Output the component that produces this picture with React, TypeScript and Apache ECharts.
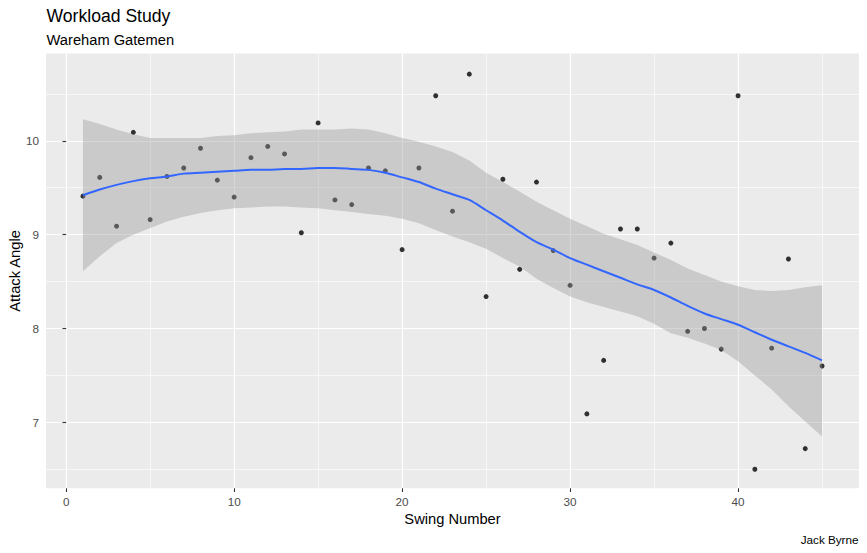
import React, { useEffect, useRef } from "react";
import * as echarts from "echarts";

const swingNumber = [
  1, 2, 3, 4, 5, 6, 7, 8, 9, 10, 11, 12, 13, 14, 15, 16, 17, 18, 19, 20, 21, 22, 23,
  24, 25, 26, 27, 28, 29, 30, 31, 32, 33, 34, 35, 36, 37, 38, 39, 40, 41, 42, 43, 44, 45,
];
const attackAngle = [
  9.41, 9.61, 9.09, 10.09, 9.16, 9.62, 9.71, 9.92, 9.58, 9.4, 9.82, 9.94, 9.86, 9.02,
  10.19, 9.37, 9.32, 9.71, 9.68, 8.84, 9.71, 10.48, 9.25, 10.71, 8.34, 9.59, 8.63, 9.56,
  8.83, 8.46, 7.09, 7.66, 9.06, 9.06, 8.75, 8.91, 7.97, 8.0, 7.78, 10.48, 6.5, 7.79,
  8.74, 6.72, 7.6,
];
const smoothFit = [
  9.42, 9.48, 9.53, 9.57, 9.6, 9.62, 9.65, 9.66, 9.67, 9.68, 9.69, 9.69, 9.7, 9.7, 9.71,
  9.71, 9.7, 9.69, 9.66, 9.61, 9.56, 9.49, 9.43, 9.37, 9.26, 9.15, 9.03, 8.92, 8.84,
  8.75, 8.68, 8.61, 8.54, 8.47, 8.41, 8.33, 8.24, 8.16, 8.1, 8.04, 7.96, 7.88, 7.81,
  7.74, 7.66,
];
const bandUpper = [
  10.23, 10.18, 10.12, 10.07, 10.03, 10.03, 10.03, 10.03, 10.05, 10.06, 10.08, 10.09,
  10.1, 10.12, 10.12, 10.12, 10.13, 10.12, 10.08, 10.03, 9.99, 9.94, 9.88, 9.79, 9.66,
  9.56, 9.46, 9.35, 9.26, 9.17, 9.09, 9.01, 8.95, 8.89, 8.81, 8.73, 8.64, 8.57, 8.5,
  8.45, 8.41, 8.4, 8.41, 8.44, 8.46,
];
const bandLower = [
  8.61, 8.77, 8.91, 9.0, 9.07, 9.14, 9.19, 9.23, 9.26, 9.28, 9.29, 9.3, 9.3, 9.29, 9.28,
  9.26, 9.24, 9.22, 9.2, 9.17, 9.12, 9.05, 8.98, 8.92, 8.85, 8.75, 8.66, 8.53, 8.43,
  8.34, 8.28, 8.23, 8.18, 8.13, 8.05, 7.95, 7.9, 7.84, 7.77, 7.65, 7.5, 7.35, 7.17, 7.01,
  6.85,
];
const xMajorTicks = [0, 10, 20, 30, 40];
const xMinorTicks = [5, 15, 25, 35, 45];
const yMajorTicks = [7, 8, 9, 10];
const yMinorTicks = [6.5, 7.5, 8.5, 9.5, 10.5];

const titleText = "Workload Study";
const subtitleText = "Wareham Gatemen";
const xTitle = "Swing Number";
const yTitle = "Attack Angle";
const captionText = "Jack Byrne";

const X_MIN = -1.2;
const X_MAX = 47.2;
const Y_MIN = 6.297;
const Y_MAX = 10.93;

const FONT = "'Liberation Sans', Arial, sans-serif";

export default function App() {
  const ref = useRef<HTMLDivElement>(null);

  useEffect(() => {
    if (!ref.current) return;
    const chart = echarts.init(ref.current, null, { renderer: "svg" });

    const majorAxisCommon = {
      axisLine: { show: false },
      axisTick: { show: true, length: 3.7, lineStyle: { color: "#333333", width: 1.07 } },
      axisLabel: { color: "#4D4D4D", fontSize: 11.7, fontFamily: FONT, margin: 7 },
      splitLine: { show: true, lineStyle: { color: "#FFFFFF", width: 1.2 } },
    };
    const minorAxisCommon = {
      axisLine: { show: false },
      axisTick: { show: false },
      axisLabel: { show: false },
      splitLine: { show: true, lineStyle: { color: "#FFFFFF", width: 0.6 } },
    };

    const pts = swingNumber.map((x, i) => [x, attackAngle[i]]);
    const fit = swingNumber.map((x, i) => [x, smoothFit[i]]);

    const option = {
      animation: false,
      backgroundColor: "#FFFFFF",
      grid: {
        left: 46,
        right: 8,
        top: 53.5,
        bottom: 64.7,
        show: true,
        backgroundColor: "#EBEBEB",
        borderWidth: 0,
      },
      xAxis: [
        {
          type: "value",
          min: X_MIN,
          max: X_MAX,
          ...minorAxisCommon,
          axisTick: { show: false, customValues: xMinorTicks },
          axisLabel: { show: false, customValues: xMinorTicks },
        },
        {
          type: "value",
          min: X_MIN,
          max: X_MAX,
          position: "bottom",
          ...majorAxisCommon,
          axisTick: { ...majorAxisCommon.axisTick, customValues: xMajorTicks },
          axisLabel: { ...majorAxisCommon.axisLabel, customValues: xMajorTicks },
        },
      ],
      yAxis: [
        {
          type: "value",
          min: Y_MIN,
          max: Y_MAX,
          ...minorAxisCommon,
          axisTick: { show: false, customValues: yMinorTicks },
          axisLabel: { show: false, customValues: yMinorTicks },
        },
        {
          type: "value",
          min: Y_MIN,
          max: Y_MAX,
          position: "left",
          ...majorAxisCommon,
          axisTick: { ...majorAxisCommon.axisTick, customValues: yMajorTicks },
          axisLabel: { ...majorAxisCommon.axisLabel, customValues: yMajorTicks },
        },
      ],
      series: [
        {
          type: "scatter",
          xAxisIndex: 1,
          yAxisIndex: 1,
          data: pts,
          symbol: "circle",
          symbolSize: 5,
          itemStyle: { color: "#000000" },
          z: 2,
          silent: true,
        },
        {
          type: "custom",
          xAxisIndex: 1,
          yAxisIndex: 1,
          data: [[swingNumber[0], bandLower[0]]],
          z: 3,
          silent: true,
          renderItem: (_params: any, api: any) => {
            const poly: number[][] = [];
            for (let i = 0; i < swingNumber.length; i++) {
              poly.push(api.coord([swingNumber[i], bandUpper[i]]));
            }
            for (let i = swingNumber.length - 1; i >= 0; i--) {
              poly.push(api.coord([swingNumber[i], bandLower[i]]));
            }
            return {
              type: "polygon",
              shape: { points: poly },
              style: { fill: "rgba(153,153,153,0.4)", stroke: "none" },
            };
          },
        },
        {
          type: "line",
          xAxisIndex: 1,
          yAxisIndex: 1,
          data: fit,
          showSymbol: false,
          smooth: 0.3,
          lineStyle: { color: "#3366FF", width: 2 },
          z: 4,
          silent: true,
        },
      ],
      graphic: [
        {
          type: "text",
          left: 46.5,
          top: 7,
          style: { text: titleText, fontSize: 17.6, fontFamily: FONT, fill: "#000000" },
        },
        {
          type: "text",
          left: 46.5,
          top: 32.5,
          style: { text: subtitleText, fontSize: 14.7, fontFamily: FONT, fill: "#000000" },
        },
        {
          type: "text",
          x: 452.5,
          y: 519.2,
          style: {
            text: xTitle,
            fontSize: 14.7,
            fontFamily: FONT,
            fill: "#000000",
            align: "center",
            verticalAlign: "middle",
          },
        },
        {
          type: "text",
          x: 15,
          y: 271,
          rotation: Math.PI / 2,
          style: {
            text: yTitle,
            fontSize: 14.7,
            fontFamily: FONT,
            fill: "#000000",
            align: "center",
            verticalAlign: "middle",
          },
        },
        {
          type: "text",
          x: 858.5,
          y: 539.3,
          style: {
            text: captionText,
            fontSize: 11.7,
            fontFamily: FONT,
            fill: "#000000",
            align: "right",
            verticalAlign: "middle",
          },
        },
      ],
    };

    chart.setOption(option as any);
    return () => chart.dispose();
  }, []);

  return (
    <div
      ref={ref}
      style={{ position: "absolute", left: 0, top: 0, width: 867, height: 553 }}
    />
  );
}
